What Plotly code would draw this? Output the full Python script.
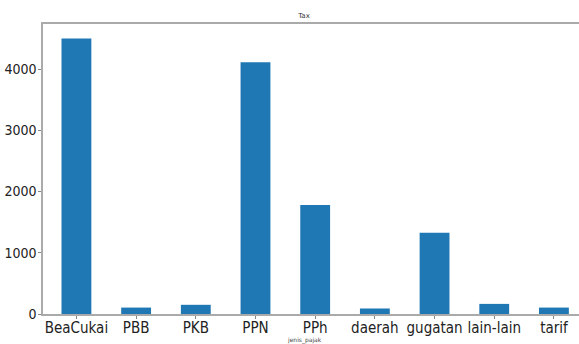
import plotly.graph_objects as go

categories = ["BeaCukai", "PBB", "PKB", "PPN", "PPh", "daerah", "gugatan", "lain-lain", "tarif"]
values = [4500, 105, 150, 4110, 1780, 90, 1325, 165, 105]
y_ticks = [0, 1000, 2000, 3000, 4000]

W, H = 579, 344
TICKFONT = "DejaVu Sans Condensed, DejaVu Sans"

fig = go.Figure(go.Bar(x=list(range(len(categories))), y=values, width=0.5,
                       marker=dict(color="#1f77b4", line=dict(width=0))))

fig.update_layout(
    width=W, height=H,
    margin=dict(l=43, r=0, t=24, b=30, autoexpand=False),
    paper_bgcolor="white", plot_bgcolor="white",
    showlegend=False,
    title=dict(text="Tax", x=304 / W, xanchor="center",
               y=1 - 16 / H, yanchor="middle",
               font=dict(family="DejaVu Sans", size=7, color="#333")),
    font=dict(family="DejaVu Sans", color="#222"),
    annotations=[dict(text="jenis_pajak", xref="paper", yref="paper",
                      x=(304 - 43) / (579 - 43), y=-(340 - 314) / 290,
                      xanchor="center", yanchor="middle", showarrow=False,
                      font=dict(family="DejaVu Sans", size=6, color="#444"))],
)
fig.update_xaxes(
    range=[-0.56, 8.42], tickmode="array", tickvals=list(range(len(categories))),
    ticktext=categories, tickfont=dict(family=TICKFONT, size=15, color="#222"),
    showline=True, linecolor="#aaa", linewidth=1.5, mirror=True,
    ticks="outside", ticklen=3, tickcolor="#888", showgrid=False, zeroline=False,
    ticklabelstandoff=-4,
)
fig.update_yaxes(
    range=[0, 4735], tickmode="array", tickvals=y_ticks,
    ticktext=[str(v) for v in y_ticks], tickfont=dict(family=TICKFONT, size=14, color="#222"),
    showline=True, linecolor="#aaa", linewidth=1.5,
    ticks="outside", ticklen=3, tickcolor="#888", showgrid=False, zeroline=False,
    ticklabelstandoff=-1,
)
fig.write_html("out.html", config={"displayModeBar": False},
               post_script="document.body.style.margin='0';document.body.style.overflow='hidden';")
